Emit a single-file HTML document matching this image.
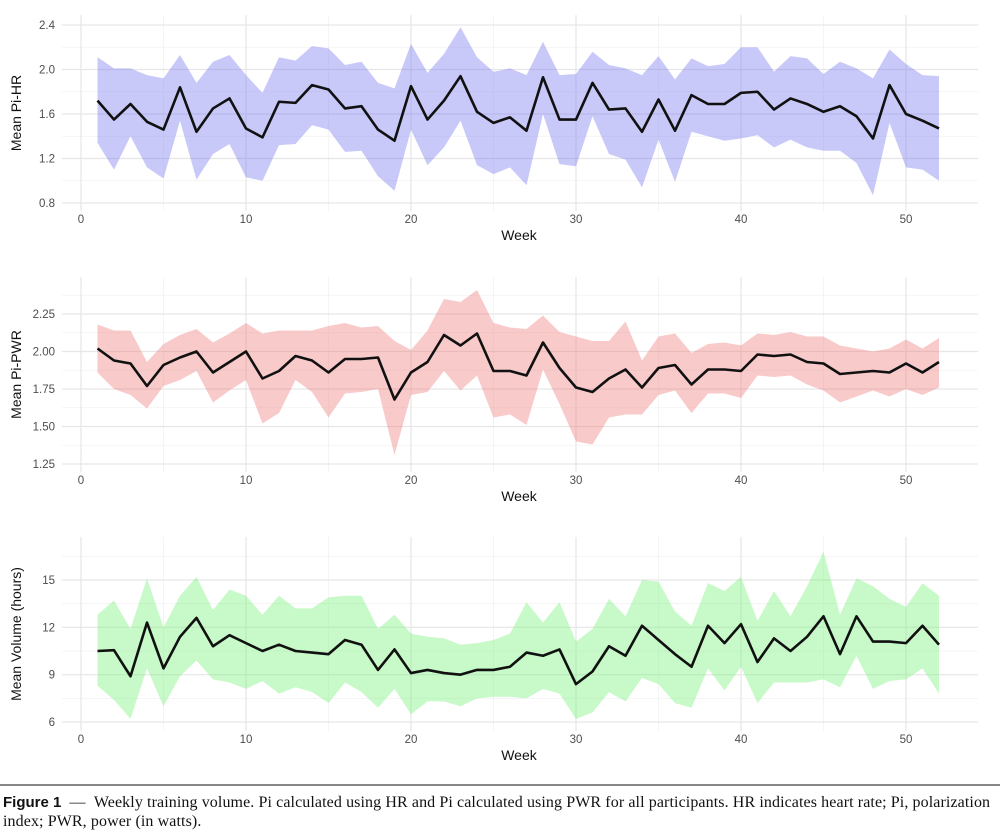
<!DOCTYPE html>
<html><head><meta charset="utf-8"><style>
body{margin:0;background:#fff;width:1000px;height:838px;overflow:hidden}
svg{display:block}
.cap{position:absolute;left:3px;top:793px;width:995px;font-family:"Liberation Serif",serif;font-size:16px;line-height:19px;color:#111;letter-spacing:0.1px;white-space:nowrap;overflow:hidden}
.cap b{font-family:"Liberation Sans",sans-serif;font-size:15px;letter-spacing:0}
</style></head><body>
<svg id="chart" width="1000" height="838">
<line x1="0" y1="785" x2="1000" y2="785" stroke="#888" stroke-width="2"/>
</svg>
<div class="cap"><b>Figure 1</b> &nbsp;— &nbsp;Weekly training volume. Pi calculated using HR and Pi calculated using PWR for all participants. HR indicates heart rate; Pi, polarization<br>index; PWR, power (in watts).</div>
<script>
const weeks = Array.from({length:52},(_,i)=>i+1);
const xTicks = [0,10,20,30,40,50];
const hrMean=[1.72,1.55,1.69,1.53,1.46,1.84,1.44,1.65,1.74,1.47,1.39,1.71,1.70,1.86,1.82,1.65,1.67,1.46,1.36,1.85,1.55,1.72,1.94,1.62,1.52,1.57,1.45,1.93,1.55,1.55,1.88,1.64,1.65,1.44,1.73,1.45,1.77,1.69,1.69,1.79,1.80,1.64,1.74,1.69,1.62,1.67,1.58,1.38,1.86,1.60,1.54,1.47];
const hrUpper=[2.11,2.01,2.01,1.95,1.92,2.13,1.88,2.07,2.13,1.95,1.79,2.11,2.08,2.21,2.19,2.04,2.07,1.88,1.83,2.23,1.97,2.14,2.38,2.11,1.98,2.01,1.95,2.25,1.95,1.96,2.16,2.04,2.01,1.95,2.12,1.91,2.10,2.03,2.05,2.20,2.20,1.98,2.12,2.10,1.96,2.07,2.01,1.92,2.18,2.05,1.95,1.94];
const hrLower=[1.34,1.10,1.40,1.12,1.02,1.54,1.01,1.24,1.33,1.03,1.00,1.32,1.33,1.50,1.46,1.26,1.27,1.04,0.91,1.46,1.14,1.30,1.54,1.14,1.06,1.12,0.96,1.60,1.15,1.13,1.58,1.24,1.19,0.94,1.37,0.99,1.44,1.40,1.36,1.38,1.41,1.30,1.37,1.30,1.27,1.27,1.16,0.87,1.52,1.12,1.10,1.00];
const hrTicks=[0.8,1.2,1.6,2.0,2.4];
const pwrMean=[2.02,1.94,1.92,1.77,1.91,1.96,2.00,1.86,1.93,2.00,1.82,1.87,1.97,1.94,1.86,1.95,1.95,1.96,1.68,1.86,1.93,2.11,2.04,2.12,1.87,1.87,1.84,2.06,1.89,1.76,1.73,1.82,1.88,1.76,1.89,1.91,1.78,1.88,1.88,1.87,1.98,1.97,1.98,1.93,1.92,1.85,1.86,1.87,1.86,1.92,1.86,1.93];
const pwrUpper=[2.18,2.14,2.14,1.93,2.05,2.11,2.15,2.06,2.12,2.19,2.12,2.14,2.14,2.14,2.17,2.19,2.16,2.17,2.07,2.01,2.14,2.35,2.33,2.41,2.19,2.16,2.15,2.24,2.13,2.10,2.07,2.07,2.20,1.94,2.10,2.12,1.99,2.05,2.06,2.04,2.12,2.11,2.13,2.10,2.10,2.04,2.02,2.00,2.02,2.08,2.02,2.09];
const pwrLower=[1.86,1.75,1.71,1.62,1.77,1.81,1.87,1.66,1.74,1.81,1.52,1.59,1.81,1.73,1.56,1.72,1.73,1.75,1.31,1.71,1.73,1.87,1.74,1.84,1.56,1.58,1.51,1.88,1.65,1.40,1.38,1.56,1.58,1.58,1.71,1.74,1.59,1.72,1.72,1.69,1.84,1.83,1.84,1.78,1.74,1.66,1.70,1.74,1.70,1.75,1.71,1.76];
const pwrTicks=[1.25,1.50,1.75,2.00,2.25];
const volMean=[10.5,10.55,8.9,12.3,9.4,11.4,12.6,10.8,11.5,11.0,10.5,10.9,10.5,10.4,10.3,11.2,10.9,9.3,10.6,9.1,9.3,9.1,9.0,9.3,9.3,9.5,10.4,10.2,10.6,8.4,9.2,10.8,10.2,12.1,11.2,10.3,9.5,12.1,11.0,12.2,9.8,11.3,10.5,11.4,12.7,10.3,12.7,11.1,11.1,11.0,12.1,10.9];
const volUpper=[12.8,13.7,11.9,15.1,12.0,14.0,15.2,13.1,14.4,14.0,12.8,14.0,13.2,13.2,13.9,14.0,14.0,11.9,12.8,11.6,11.4,11.3,10.9,11.0,11.2,11.6,13.6,12.3,13.6,11.1,11.9,13.8,12.7,15.0,14.9,13.0,12.1,14.8,14.3,15.2,12.4,14.3,12.7,14.6,16.8,12.8,15.1,14.6,13.8,13.3,14.8,14.0];
const volLower=[8.3,7.4,6.2,9.4,7.0,8.9,9.9,8.7,8.5,8.1,8.6,7.8,8.2,7.9,7.2,8.5,7.9,6.9,8.1,6.5,7.3,7.3,7.0,7.5,7.6,7.6,7.5,8.1,7.8,6.2,6.6,7.9,7.3,8.8,8.4,7.2,6.9,9.4,8.0,9.5,7.2,8.5,8.5,8.5,8.7,8.2,10.2,8.1,8.6,8.7,9.4,7.8];
const volTicks=[6,9,12,15];

const NS="http://www.w3.org/2000/svg";
const svg=document.getElementById('chart');
function mk(tag,attrs,parent){const e=document.createElementNS(NS,tag);for(const k in attrs)e.setAttribute(k,attrs[k]);(parent||svg).appendChild(e);return e;}
const X0=62,X1=978;
function xs(w){return 81+(w-0)*16.5;}

function panel(cfg){
  const g=mk('g',{});
  
  
  const ys=v=>cfg.py0+(v-cfg.v0)*(cfg.py1-cfg.py0)/(cfg.v1-cfg.v0);
  const step=cfg.ticks[1]-cfg.ticks[0];
  for(let i=0;i<cfg.ticks.length+1;i++){
    const v=cfg.ticks[0]+(i-0.5)*step;const y=ys(v);
    if(y>cfg.top&&y<cfg.bot){const l=mk('line',{x1:X0,x2:X1,y1:y,y2:y,stroke:'#f2f2f2','stroke-width':0.8},g);
      }
  }
  for(let w=-5;w<=60;w+=10){const x=xs(w);if(x>X0&&x<X1){const l=mk('line',{x1:x,x2:x,y1:cfg.top,y2:cfg.bot,stroke:'#f2f2f2','stroke-width':0.8},g);
    }}
  cfg.ticks.forEach(v=>{const y=ys(v);
    const l=mk('line',{x1:X0,x2:X1,y1:y,y2:y,stroke:'#e6e6e6','stroke-width':1.2},g);
    
    const t=mk('text',{x:55,y:y+4,'text-anchor':'end','font-size':11.5,fill:'#4d4d4d','font-family':'Liberation Sans, sans-serif'},g);
    t.textContent=cfg.fmt(v);
    });
  xTicks.forEach(w=>{const x=xs(w);
    const l=mk('line',{x1:x,x2:x,y1:cfg.top,y2:cfg.bot,stroke:'#e6e6e6','stroke-width':1.2},g);
    
    const t=mk('text',{x:x,y:cfg.bot+12,'text-anchor':'middle','font-size':11.5,fill:'#4d4d4d','font-family':'Liberation Sans, sans-serif'},g);
    t.textContent=w;
    });
  let d='M'+weeks.map((w,i)=>xs(w)+','+ys(cfg.upper[i])).join('L');
  for(let i=weeks.length-1;i>=0;i--)d+='L'+xs(weeks[i])+','+ys(cfg.lower[i]);
  const rb=mk('path',{d:d+'Z',fill:cfg.color,'fill-opacity':0.42},g);
  
  const ln=mk('path',{d:'M'+weeks.map((w,i)=>xs(w)+','+ys(cfg.mean[i])).join('L'),fill:'none',stroke:'#111','stroke-width':2.6,'stroke-linejoin':'round'},g);
  
  const xt=mk('text',{x:519,y:cfg.bot+29,'text-anchor':'middle','font-size':14,fill:'#111','font-family':'Liberation Sans, sans-serif'},g);
  xt.textContent='Week';
  
  const cy=(cfg.top+cfg.bot)/2;
  const yt=mk('text',{x:0,y:0,transform:`translate(21,${cy}) rotate(-90)`,'text-anchor':'middle','font-size':14,fill:'#111','font-family':'Liberation Sans, sans-serif'},g);
  yt.textContent=cfg.title;
  
}
panel({name:'pi-hr',mean:hrMean,upper:hrUpper,lower:hrLower,ticks:hrTicks,v0:2.4,py0:25,v1:0.8,py1:203,top:15,bot:211,color:'#7b7bf0',title:'Mean Pi-HR',fmt:v=>v.toFixed(1)});
panel({name:'pi-pwr',mean:pwrMean,upper:pwrUpper,lower:pwrLower,ticks:pwrTicks,v0:2.25,py0:314,v1:1.25,py1:464,top:277,bot:472,color:'#f08080',title:'Mean Pi-PWR',fmt:v=>v.toFixed(2)});
panel({name:'volume',mean:volMean,upper:volUpper,lower:volLower,ticks:volTicks,v0:15,py0:580,v1:6,py1:722,top:537,bot:731,color:'#7bf07b',title:'Mean Volume (hours)',fmt:v=>v});
</script>
</body></html>
